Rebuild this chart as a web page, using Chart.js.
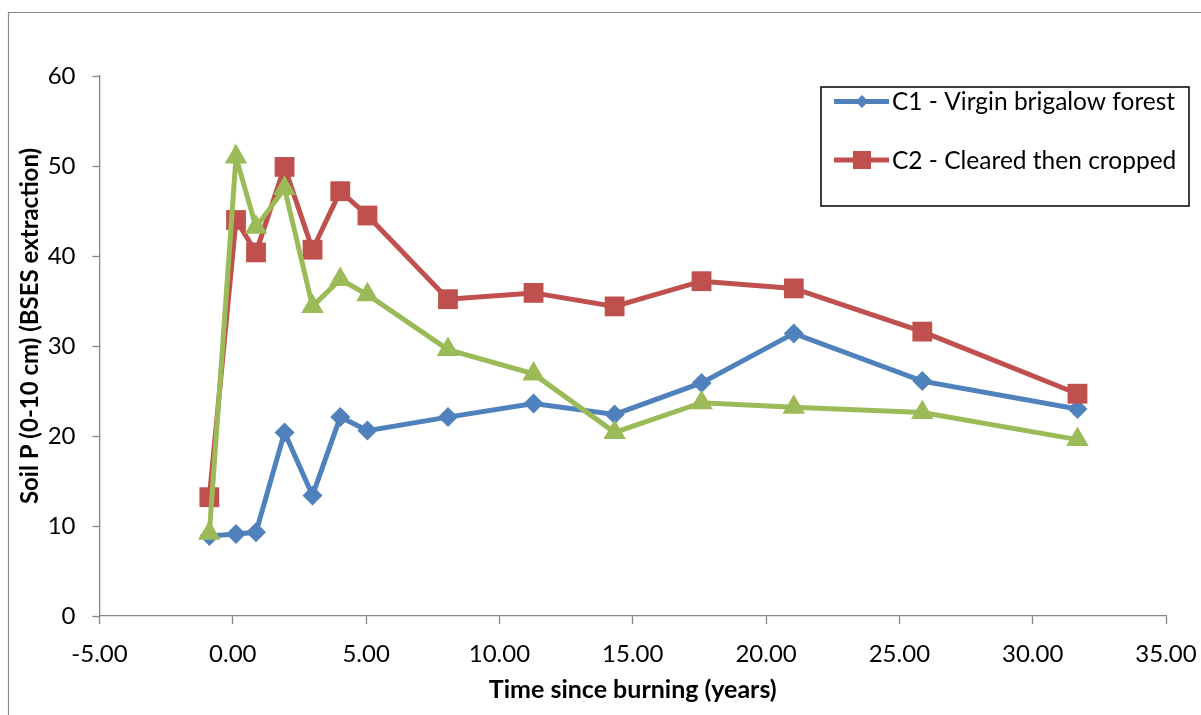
<!DOCTYPE html>
<html>
<head>
<meta charset="utf-8">
<script src="https://cdn.jsdelivr.net/npm/chart.js@4.4.1/dist/chart.umd.min.js"></script>
<style>
html,body{margin:0;padding:0;background:#fff;}
#wrap{position:relative;width:1201px;height:715px;}
canvas{display:block;}
</style>
</head>
<body>
<div id="wrap"><canvas id="c" width="1201" height="715"></canvas></div>
<script>
// Time since burning (years)
const years = [-0.88, 0.12, 0.87, 1.94, 2.99, 4.03, 5.05, 8.07, 11.28, 14.32, 17.58, 21.04, 25.86, 31.68];
// Soil P (0-10 cm) (BSES extraction)
const c1Virgin = [8.9, 9.1, 9.3, 20.4, 13.4, 22.1, 20.6, 22.1, 23.6, 22.4, 25.9, 31.4, 26.1, 23.0];
const c2Cropped = [13.2, 44.0, 40.4, 49.9, 40.7, 47.2, 44.5, 35.2, 35.9, 34.4, 37.2, 36.4, 31.6, 24.7];
const c3Third = [9.2, 51.0, 43.2, 47.5, 34.4, 37.4, 35.7, 29.6, 26.9, 20.4, 23.7, 23.2, 22.6, 19.6];
const seriesNames = ['C1 - Virgin brigalow forest', 'C2 - Cleared then cropped', 'C3'];
const xTicks = [-5, 0, 5, 10, 15, 20, 25, 30, 35];
const yTicks = [0, 10, 20, 30, 40, 50, 60];
const xTitle = 'Time since burning (years)';
const yTitle = 'Soil P (0-10 cm) (BSES extraction)';

const BLUE = '#4F81BD', RED = '#C0504D', GREEN = '#9BBB59';
const FONT = 'Lato, Carlito, Calibri, "Open Sans", sans-serif';

const pts = arr => years.map((x, i) => ({x: x, y: arr[i]}));

const frame = {
  id: 'frame',
  beforeDraw(chart) {
    const ctx = chart.ctx;
    ctx.save();
    ctx.strokeStyle = '#8a8a8a';
    ctx.lineWidth = 1.2;
    ctx.beginPath();
    ctx.moveTo(8.5, 800);
    ctx.lineTo(8.5, 12.5);
    ctx.lineTo(1300, 12.5);
    ctx.stroke();
    ctx.restore();
  }
};

// y-axis title, placed as in the reference (slightly above the axis centre)
const yAxisTitle = {
  id: 'yAxisTitle',
  afterDraw(chart) {
    const ctx = chart.ctx;
    const ca = chart.chartArea;
    ctx.save();
    ctx.translate(30, (ca.top + ca.bottom) / 2 - 20);
    ctx.rotate(-Math.PI / 2);
    ctx.fillStyle = '#000';
    ctx.font = 'bold 24px ' + FONT;
    ctx.textAlign = 'center';
    ctx.textBaseline = 'middle';
    ctx.fillText(yTitle, 0, 0);
    ctx.restore();
  }
};

const boxLegend = {
  id: 'boxLegend',
  afterDraw(chart) {
    const ctx = chart.ctx;
    const ca = chart.chartArea;
    const bx = ca.right - 345, by = ca.top + 11, bw = 368, bh = 119;
    ctx.save();
    ctx.fillStyle = '#fff';
    ctx.fillRect(bx, by, bw, bh);
    ctx.strokeStyle = '#000';
    ctx.lineWidth = 1.5;
    ctx.strokeRect(bx, by, bw, bh);
    [0, 1].forEach((di, r) => {
      const ds = chart.data.datasets[di];
      const cy = by + 14.5 + r * 58.5;
      const x0 = bx + 13, x1 = bx + 68, mx = bx + 41;
      ctx.strokeStyle = ds.borderColor;
      ctx.lineWidth = 5;
      ctx.beginPath();
      ctx.moveTo(x0, cy); ctx.lineTo(x1, cy); ctx.stroke();
      ctx.fillStyle = ds.backgroundColor;
      ctx.beginPath();
      if (ds.pointStyle === 'rectRot') {
        const h = 6.5;
        ctx.moveTo(mx, cy - h); ctx.lineTo(mx + h, cy); ctx.lineTo(mx, cy + h); ctx.lineTo(mx - h, cy);
        ctx.closePath();
      } else {
        ctx.rect(mx - 9, cy - 9, 18, 18);
      }
      ctx.fill();
      ctx.fillStyle = '#000';
      ctx.font = '24.5px ' + FONT;
      ctx.textAlign = 'left';
      ctx.textBaseline = 'middle';
      ctx.fillText(ds.label, bx + 71, cy + 1);
    });
    ctx.restore();
  }
};

new Chart(document.getElementById('c'), {
  type: 'scatter',
  data: {
    datasets: [
      {label: seriesNames[0], data: pts(c1Virgin), showLine: true, borderColor: BLUE, backgroundColor: BLUE,
       borderWidth: 5, pointStyle: 'rectRot', pointRadius: 10, pointBorderWidth: 0, tension: 0, order: 3},
      {label: seriesNames[1], data: pts(c2Cropped), showLine: true, borderColor: RED, backgroundColor: RED,
       borderWidth: 5, pointStyle: 'rect', pointRadius: 14, pointBorderWidth: 0, tension: 0, order: 2},
      {label: seriesNames[2], data: pts(c3Third), showLine: true, borderColor: GREEN, backgroundColor: GREEN,
       borderWidth: 5, pointStyle: 'triangle', pointRadius: 13, pointBorderWidth: 0, tension: 0, order: 1}
    ]
  },
  options: {
    responsive: false,
    animation: false,
    devicePixelRatio: 1,
    clip: false,
    layout: {padding: {left: 0, right: 35, top: 76, bottom: 0}},
    plugins: {legend: {display: false}, tooltip: {enabled: false}},
    scales: {
      x: {
        type: 'linear', min: xTicks[0], max: xTicks[xTicks.length - 1],
        afterBuildTicks: s => { s.ticks = xTicks.map(v => ({value: v})); },
        afterFit: s => { s.height = 99; s.paddingLeft = 0; s.paddingRight = 0; },
        grid: {drawOnChartArea: false, drawTicks: true, tickLength: 8, tickColor: '#868686', tickWidth: 1.3},
        border: {color: '#868686', width: 1.3},
        ticks: {color: '#000', font: {family: FONT, size: 24}, padding: 16, maxRotation: 0,
                callback: v => Number(v).toFixed(2)},
        title: {display: true, text: xTitle, color: '#000',
                font: {family: FONT, size: 25, weight: 'bold'}, padding: {top: 0, bottom: 10}}
      },
      y: {
        type: 'linear', min: yTicks[0], max: yTicks[yTicks.length - 1],
        afterBuildTicks: s => { s.ticks = yTicks.map(v => ({value: v})); },
        afterFit: s => { s.width = 99.5; s.paddingTop = 0; s.paddingBottom = 0; },
        grid: {drawOnChartArea: false, drawTicks: true, tickLength: 7, tickColor: '#868686', tickWidth: 1.3},
        border: {color: '#868686', width: 1.3},
        ticks: {color: '#000', font: {family: FONT, size: 24}, padding: 17},
        title: {display: false, text: yTitle}
      }
    }
  },
  plugins: [frame, yAxisTitle, boxLegend]
});
</script>
</body>
</html>
